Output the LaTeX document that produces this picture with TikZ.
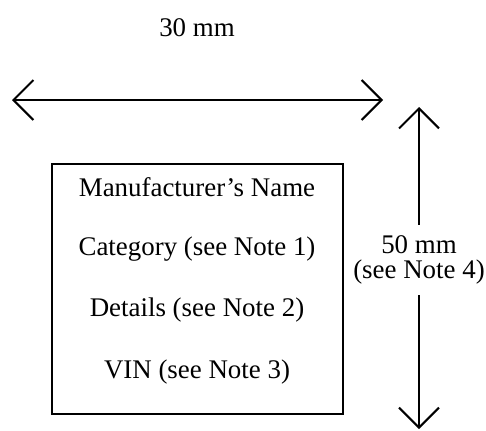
\documentclass[tikz,border=0pt]{standalone}
\usepackage{fontspec}
\setmainfont{Liberation Serif}
\usetikzlibrary{arrows.meta}

\tikzset{
  dimline/.style={line width=2bp, {Straight Barb[length=20bp,width=40bp,line width=2bp]}-{Straight Barb[length=20bp,width=40bp,line width=2bp]}},
  halfdim/.style={line width=2bp, -{Straight Barb[length=20bp,width=40bp,line width=2bp]}},
  labeltext/.style={inner sep=0pt, font=\fontsize{27}{25}\selectfont}
}

\begin{document}
\begin{tikzpicture}[x=1bp, y=-1bp]
\useasboundingbox (0,0) rectangle (486,430);

\def\xl{12}; % arrow left
\def\xr{383}; % arrow right
\def\yh{100};

\def\xv{419}; % vertical arrow
\def\yt{107};
\def\yb{429};

\def\xc{197}; % box middle
\def\dy{61.7};

% width
\coordinate (wl) at (\xl, \yh);
\coordinate (wr) at (\xr, \yh);
\draw[dimline] (wl) -- (wr);
\node[labeltext] (wlabel) at (\xc, 28) {30 mm};

% plate
\node[draw, line width=2bp, minimum width=291bp, minimum height=250bp] (plate) at (197.5, 289) {};
\node[labeltext] (maker) at (\xc, 187) {Manufacturer's Name};
\node[labeltext] (cat) at (\xc, 187+\dy) {Category (see Note 1)};
\node[labeltext] (det) at (\xc, 187+2*\dy) {Details (see Note 2)};
\node[labeltext] (vin) at (\xc, 187+3*\dy) {VIN (see Note 3)};

% height
\coordinate (ht) at (\xv, \yt);
\coordinate (hb) at (\xv, \yb);
\node[labeltext, align=center, inner ysep=11bp] (hlabel) at (\xv, 260) {50 mm\\(see Note 4)};
\draw[halfdim] (hlabel.north) -- (ht);
\draw[halfdim] (hlabel.south) -- (hb);

\end{tikzpicture}
\end{document}
